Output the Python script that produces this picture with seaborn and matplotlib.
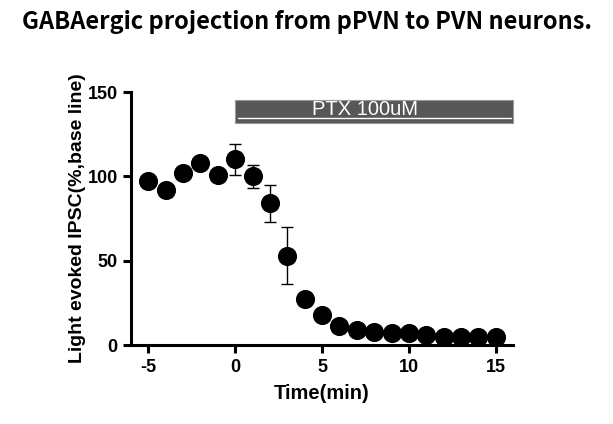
import numpy as np
import pandas as pd
import matplotlib
matplotlib.use("Agg")
import matplotlib.pyplot as plt
import seaborn as sns

time_min = [-5, -4, -3, -2, -1, 0, 1, 2, 3, 4, 5, 6, 7, 8, 9, 10, 11, 12, 13, 14, 15]
ipsc_pct = [97, 92, 102, 108, 101, 110, 100, 84, 53, 27, 18, 11, 9, 8, 7, 7, 6, 5, 5, 5, 5]
ipsc_sem = [0, 0, 0, 0, 0, 9, 7, 11, 17, 0, 0, 0, 0, 0, 0, 0, 0, 0, 0, 0, 0]

drug_label = "PTX 100uM"
drug_start, drug_end = 0, 16

df = pd.DataFrame({"time": time_min, "ipsc": ipsc_pct, "sem": ipsc_sem})

sns.set_style("ticks", {"text.color": "black", "axes.labelcolor": "black",
                        "axes.edgecolor": "black", "xtick.color": "black",
                        "ytick.color": "black"})
plt.rcParams["font.family"] = ["Liberation Sans", "DejaVu Sans"]
plt.rcParams["axes.unicode_minus"] = False

fig = plt.figure(figsize=(6.13, 4.24), dpi=100)
ax = fig.add_axes([0.2137, 0.1863, 0.6233, 0.5967])

# error bars first so markers sit on top
ax.errorbar(df["time"], df["ipsc"], yerr=df["sem"], fmt="none",
            ecolor="black", elinewidth=1, capsize=4, capthick=1, zorder=2)
sns.scatterplot(data=df, x="time", y="ipsc", ax=ax, color="black",
                s=190, edgecolor="black", linewidth=0, zorder=3, legend=False)

ax.set_xlim(-6, 16)
ax.set_ylim(0, 150)
ax.set_xticks([-5, 0, 5, 10, 15])
ax.set_yticks([0, 50, 100, 150])
sns.despine(ax=ax)
for side in ("left", "bottom"):
    ax.spines[side].set_linewidth(2.2)
ax.tick_params(width=2.2, length=6, labelsize=13, colors="black")
ax.tick_params(axis="x", pad=4)
for lbl in ax.get_xticklabels() + ax.get_yticklabels():
    lbl.set_fontweight("bold")

ax.set_xlabel("Time(min)", fontsize=14.5, fontweight="bold", labelpad=6, color="black")
ax.set_ylabel("Light evoked IPSC(%,base line)", fontsize=14, fontweight="bold",
              labelpad=1, color="black")

# drug application bar
ax.add_patch(plt.Rectangle((drug_start, 131.8), drug_end - drug_start, 13.4,
                           facecolor="#575757", edgecolor="#9a9a9a", linewidth=0.8,
                           clip_on=False, zorder=4))
ax.plot([drug_start + 0.15, drug_end - 0.1], [134.5, 134.5], color="white",
        linewidth=1, clip_on=False, zorder=5)
ax.text(7.5, 139.5, drug_label, color="white",
        fontsize=14.5, ha="center", va="center", zorder=6)

fig.text(0.5, 0.948, "GABAergic projection from pPVN to PVN neurons.",
         ha="center", va="center", fontsize=17, fontweight="bold", color="black",
         family=["Noto Sans CJK KR", "DejaVu Sans"])

fig.savefig("out.png", dpi=100)
